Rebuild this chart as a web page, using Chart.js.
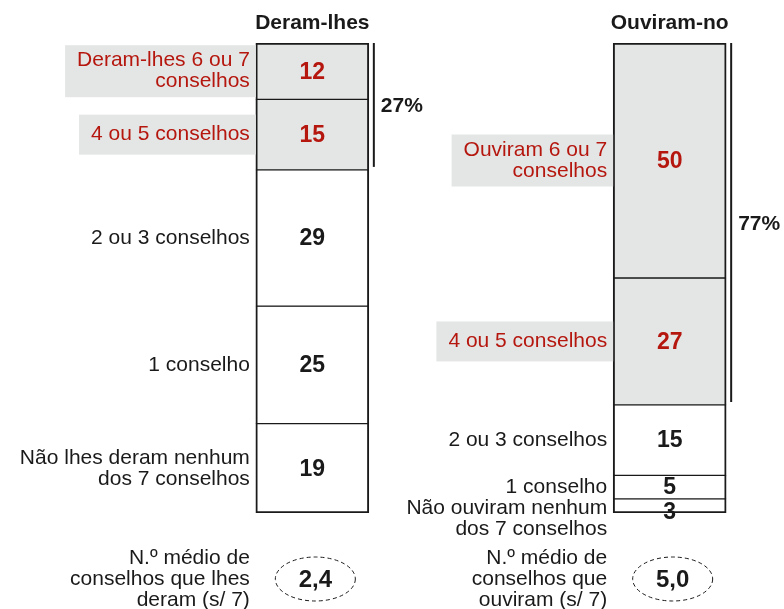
<!DOCTYPE html>
<html>
<head>
<meta charset="utf-8">
<script src="https://cdn.jsdelivr.net/npm/chart.js@4"></script>
<style>
  body { margin: 0; background: #fff; }
  #wrap { width: 784px; height: 609px; position: relative; }
</style>
</head>
<body>
<div id="wrap"><canvas id="grafico"></canvas></div>
<script>
// Dados (de cima para baixo em cada barra)
const categories = ['Deram-lhes', 'Ouviram-no'];
const levels = ['6 ou 7', '4 ou 5', '2 ou 3', '1', 'nenhum'];
const deramLhes = [12, 15, 29, 25, 19];
const ouviramNo = [50, 27, 15, 5, 3];
const labelsDeram = [['Deram-lhes 6 ou 7', 'conselhos'], ['4 ou 5 conselhos'], ['2 ou 3 conselhos'], ['1 conselho'], ['Não lhes deram nenhum', 'dos 7 conselhos']];
const labelsOuviram = [['Ouviram 6 ou 7', 'conselhos'], ['4 ou 5 conselhos'], ['2 ou 3 conselhos'], ['1 conselho'], ['Não ouviram nenhum', 'dos 7 conselhos']];
const topShare = ['27%', '77%'];
const averages = ['2,4', '5,0'];
const averageLabels = [['N.º médio de', 'conselhos que lhes', 'deram (s/ 7)'], ['N.º médio de', 'conselhos que', 'ouviram (s/ 7)']];
const highlighted = 2; // os dois primeiros níveis a cinzento

const RED = '#b5170f';
const GREY = '#e4e6e5';
const INK = '#1a1a1a';
const FONT = '"Liberation Sans", Arial, sans-serif';

const datasets = levels.map((lvl, i) => ({
  label: lvl,
  data: [deramLhes[i], null, ouviramNo[i]],
  backgroundColor: i < highlighted ? GREY : '#ffffff',
  borderColor: INK,
  borderWidth: {
    left: 2, right: 2,
    top: i === 0 ? 2 : 1,
    bottom: i === levels.length - 1 ? 2 : 1
  },
  borderSkipped: false,
  barThickness: 113
}));

// Textos desenhados por cima das barras
const textos = {
  id: 'textos',
  afterDatasetsDraw(chart) {
    const ctx = chart.ctx;
    const cols = [0, 2];
    ctx.save();
    cols.forEach((col, c) => {
      const labels = c === 0 ? labelsDeram : labelsOuviram;
      let barTop = null, barBottom = null, hlBottom = null;
      let prevBottom = -Infinity;
      let barX = 0, barLeft = 0, barRight = 0;
      levels.forEach((lvl, i) => {
        const el = chart.getDatasetMeta(i).data[col];
        const top = Math.min(el.y, el.base), bottom = Math.max(el.y, el.base);
        barX = el.x; barLeft = el.x - el.width / 2; barRight = el.x + el.width / 2;
        if (barTop === null) barTop = top;
        barBottom = bottom;
        if (i < highlighted) hlBottom = bottom;
        const cy = (top + bottom) / 2;

        // rótulo à esquerda
        const lines = labels[i];
        const lh = 21;
        let ly = cy - (lines.length - 1) * lh / 2;
        const half = lines.length * lh / 2;
        if (ly - lh / 2 < prevBottom) ly = prevBottom + lh / 2;
        prevBottom = ly + (lines.length - 1) * lh + lh / 2;
        ctx.font = '21px ' + FONT;
        const tx = barLeft - 6;
        if (i < highlighted) {
          const w = Math.max(...lines.map(s => ctx.measureText(s).width));
          const bh = Math.max(40, lines.length * lh + 10);
          const bc = ly + (lines.length - 1) * lh / 2;
          ctx.fillStyle = GREY;
          ctx.fillRect(tx - w - 12, bc - bh / 2, barLeft - (tx - w - 12), bh);
        }
        ctx.fillStyle = i < highlighted ? RED : INK;
        ctx.textAlign = 'right';
        ctx.textBaseline = 'middle';
        lines.forEach((s, k) => ctx.fillText(s, tx, ly + k * lh));

        // valor dentro da barra
        const v = chart.data.datasets[i].data[col];
        ctx.font = 'bold 23px ' + FONT;
        ctx.textAlign = 'center';
        ctx.fillText(String(v), barX, bottom - top < 18 ? cy + 7 : cy + 1);
      });

      // título
      ctx.fillStyle = INK;
      ctx.font = 'bold 21px ' + FONT;
      ctx.textAlign = 'center';
      ctx.fillText(chart.data.labels[col], barX, barTop - 20);

      // chaveta com percentagem
      const bx = barRight + 5;
      ctx.strokeStyle = INK;
      ctx.lineWidth = 2;
      ctx.beginPath();
      ctx.moveTo(bx, barTop);
      ctx.lineTo(bx, hlBottom - 3);
      ctx.stroke();
      ctx.textAlign = 'left';
      ctx.fillText(topShare[c], bx + 7, (barTop + hlBottom) / 2);

      // média em elipse tracejada
      const ey = barBottom + 66;
      ctx.lineWidth = 1;
      ctx.setLineDash([4, 3]);
      ctx.beginPath();
      ctx.ellipse(barX + 3, ey, 40, 22, 0, 0, Math.PI * 2);
      ctx.stroke();
      ctx.setLineDash([]);
      ctx.font = 'bold 24px ' + FONT;
      ctx.textAlign = 'center';
      ctx.fillText(averages[c], barX + 3, ey + 1);
      ctx.font = '21px ' + FONT;
      ctx.textAlign = 'right';
      averageLabels[c].forEach((s, k) => ctx.fillText(s, barLeft - 6, ey - 21 + k * 21));
    });
    ctx.restore();
  }
};

new Chart(document.getElementById('grafico'), {
  type: 'bar',
  data: { labels: [categories[0], '', categories[1]], datasets },
  options: {
    responsive: true,
    maintainAspectRatio: false,
    animation: false,
    layout: { padding: { left: 223, right: 25, top: 43, bottom: 96 } },
    plugins: { legend: { display: false }, tooltip: { enabled: false } },
    scales: {
      x: { display: false, stacked: true },
      y: { display: false, stacked: true, min: 0, max: 100, reverse: true }
    }
  },
  plugins: [textos]
});
</script>
</body>
</html>
